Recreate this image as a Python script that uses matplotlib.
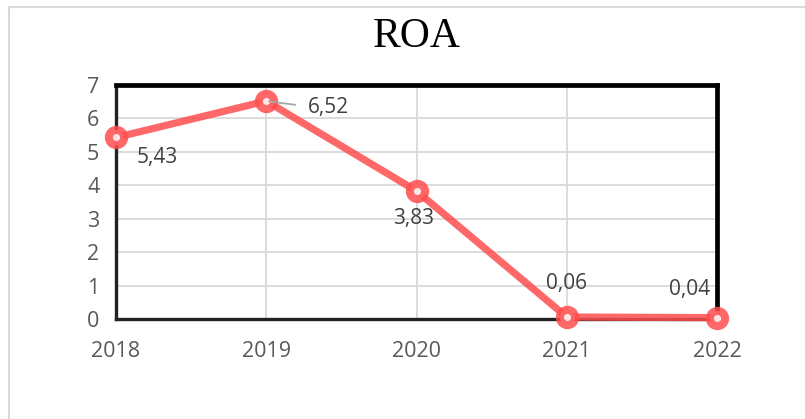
import matplotlib
matplotlib.use("Agg")
import matplotlib.pyplot as plt
from matplotlib.patches import Rectangle

years = ["2018", "2019", "2020", "2021", "2022"]
roa = [5.43, 6.52, 3.83, 0.06, 0.04]
labels = ["5,43", "6,52", "3,83", "0,06", "0,04"]
yticks = [0, 1, 2, 3, 4, 5, 6, 7]

W, H = 805, 419
fig = plt.figure(figsize=(W / 100, H / 100), dpi=100)
fig.patch.set_facecolor("white")

# outer light border
fig.add_artist(Rectangle((9 / W, 0 - 0.01), 1.0, (H - 7) / H + 0.01, transform=fig.transFigure,
                         fill=False, edgecolor="#d9d9d9", linewidth=1.5))

left, right, top, bottom = 116, 717, 85, 319
ax = fig.add_axes([left / W, 1 - bottom / H, (right - left) / W, (bottom - top) / H])
x = list(range(len(years)))
ax.set_xlim(0, len(years) - 1)
ax.set_ylim(0, 7)
ax.set_yticks(yticks)
ax.set_xticks(x)
ax.set_xticklabels(years)
ax.grid(True, color="#d9d9d9", linewidth=1.3)
ax.set_axisbelow(True)
ax.tick_params(length=0, labelsize=15.5, colors="#595959")
ax.tick_params(axis="y", pad=12)
ax.tick_params(axis="x", pad=16)
for t in ax.get_xticklabels() + ax.get_yticklabels():
    t.set_fontfamily("Open Sans")

for s in ["top", "right"]:
    ax.spines[s].set_color("black")
    ax.spines[s].set_linewidth(3.4)
for s in ["left", "bottom"]:
    ax.spines[s].set_color("#222222")
    ax.spines[s].set_linewidth(2.4)

ax.plot(x, roa, color="#ff4d4d", alpha=0.85, linewidth=5.2, solid_capstyle="round",
        marker="o", markersize=11, markerfacecolor="white", markeredgecolor="#ff4d4d",
        markeredgewidth=5.8, clip_on=False, zorder=5)

offsets = [(29.5, -14.5), (44.6, -4.3), (-2, -20), (0, 24), (-20, 20)]
for xi, yi, lab, (dx, dy) in zip(x, roa, labels, offsets):
    ax.annotate(lab, (xi, yi), xytext=(dx, dy), textcoords="offset points",
                ha="center", va="center", fontsize=15, color="#404040",
                fontfamily="Open Sans", zorder=6)
# leader line for 6,52
ax.annotate("", (1, roa[1]), xytext=(23, -3), textcoords="offset points",
            arrowprops=dict(arrowstyle="-", color="#a6a6a6", lw=1.3), zorder=6)

fig.text(417 / W, 1 - 37 / H, "ROA", ha="center", va="center", fontsize=30,
         fontfamily="Liberation Serif", color="black")

fig.savefig("out.png", dpi=100)
